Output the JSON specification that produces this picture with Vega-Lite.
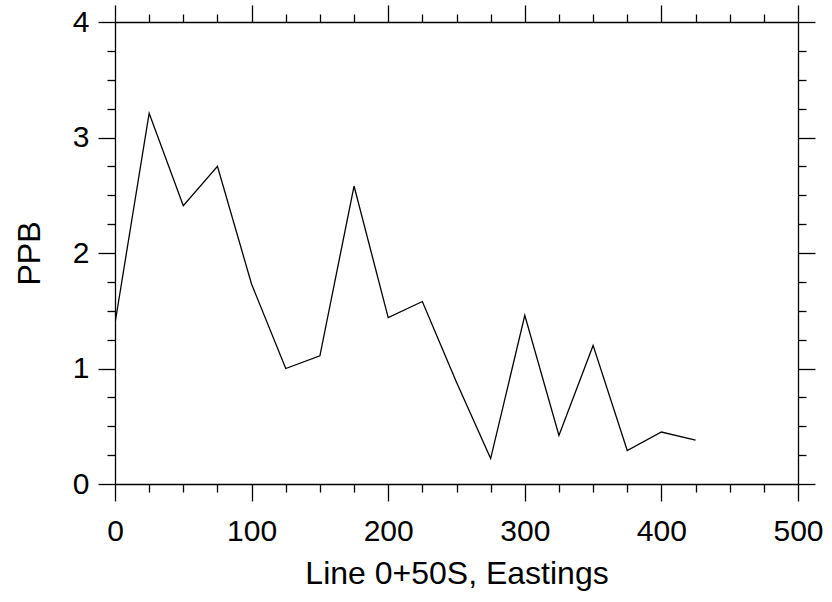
{
  "$schema": "https://vega.github.io/schema/vega-lite/v6.json",
  "width": 683,
  "height": 462,
  "autosize": "none",
  "padding": {"left": 115, "top": 22, "right": 34, "bottom": 118},
  "background": "white",
  "config": {
    "view": {"stroke": null},
    "font": "Liberation Sans",
    "axis": {
      "grid": false,
      "domainColor": "black",
      "tickColor": "black",
      "labelColor": "black",
      "titleColor": "black",
      "domainWidth": 1.3,
      "tickWidth": 1.3,
      "labelFont": "Liberation Sans",
      "titleFont": "Liberation Sans",
      "labelFontSize": 30,
      "titleFontSize": 32,
      "titleFontWeight": "normal"
    }
  },
  "data": {
    "values": [
      {"e": 0, "ppb": 1.39},
      {"e": 25, "ppb": 3.21},
      {"e": 50, "ppb": 2.41},
      {"e": 75, "ppb": 2.75},
      {"e": 100, "ppb": 1.73},
      {"e": 125, "ppb": 1.0},
      {"e": 150, "ppb": 1.11},
      {"e": 175, "ppb": 2.58},
      {"e": 200, "ppb": 1.44},
      {"e": 225, "ppb": 1.58},
      {"e": 250, "ppb": 0.88},
      {"e": 275, "ppb": 0.22},
      {"e": 300, "ppb": 1.46},
      {"e": 325, "ppb": 0.42},
      {"e": 350, "ppb": 1.2},
      {"e": 375, "ppb": 0.29},
      {"e": 400, "ppb": 0.45},
      {"e": 425, "ppb": 0.38}
    ]
  },
  "layer": [
    {
      "mark": {"type": "line", "color": "black", "strokeWidth": 1.3, "clip": true},
      "encoding": {
        "x": {
          "field": "e", "type": "quantitative",
          "scale": {"domain": [0, 500], "nice": false, "zero": false},
          "axis": {
            "orient": "bottom", "values": [0, 100, 200, 300, 400, 500],
            "tickSize": 17, "labelPadding": 15, "labelFlush": false,
            "title": "Line 0+50S, Eastings", "titlePadding": 12
          }
        },
        "y": {
          "field": "ppb", "type": "quantitative",
          "scale": {"domain": [0, 4], "nice": false, "zero": false},
          "axis": {
            "orient": "left", "values": [0, 1, 2, 3, 4],
            "tickSize": 17, "labelPadding": 9, "labelFlush": false,
            "title": "PPB", "titlePadding": 26
          }
        }
      }
    },
    {
      "mark": {"type": "line", "strokeOpacity": 0},
      "encoding": {
        "x": {
          "field": "e", "type": "quantitative",
          "scale": {"domain": [0, 500], "nice": false, "zero": false},
          "axis": {
            "orient": "bottom",
            "values": [25, 50, 75, 125, 150, 175, 225, 250, 275, 325, 350, 375, 425, 450, 475],
            "tickSize": 8, "labels": false, "domain": false, "title": null
          }
        },
        "y": {
          "field": "ppb", "type": "quantitative",
          "scale": {"domain": [0, 4], "nice": false, "zero": false},
          "axis": {
            "orient": "left",
            "values": [0.25, 0.5, 0.75, 1.25, 1.5, 1.75, 2.25, 2.5, 2.75, 3.25, 3.5, 3.75],
            "tickSize": 8, "labels": false, "domain": false, "title": null
          }
        }
      }
    },
    {
      "mark": {"type": "line", "strokeOpacity": 0},
      "encoding": {
        "x": {
          "field": "e", "type": "quantitative",
          "scale": {"domain": [0, 500], "nice": false, "zero": false},
          "axis": {
            "orient": "top", "values": [0, 100, 200, 300, 400, 500],
            "tickSize": 17, "labels": false, "title": null
          }
        },
        "y": {
          "field": "ppb", "type": "quantitative",
          "scale": {"domain": [0, 4], "nice": false, "zero": false},
          "axis": {
            "orient": "right", "values": [0, 1, 2, 3, 4],
            "tickSize": 17, "labels": false, "title": null
          }
        }
      }
    },
    {
      "mark": {"type": "line", "strokeOpacity": 0},
      "encoding": {
        "x": {
          "field": "e", "type": "quantitative",
          "scale": {"domain": [0, 500], "nice": false, "zero": false},
          "axis": {
            "orient": "top",
            "values": [25, 50, 75, 125, 150, 175, 225, 250, 275, 325, 350, 375, 425, 450, 475],
            "tickSize": 8, "labels": false, "domain": false, "title": null
          }
        },
        "y": {
          "field": "ppb", "type": "quantitative",
          "scale": {"domain": [0, 4], "nice": false, "zero": false},
          "axis": {
            "orient": "right",
            "values": [0.25, 0.5, 0.75, 1.25, 1.5, 1.75, 2.25, 2.5, 2.75, 3.25, 3.5, 3.75],
            "tickSize": 8, "labels": false, "domain": false, "title": null
          }
        }
      }
    }
  ],
  "resolve": {"axis": {"x": "independent", "y": "independent"}}
}
